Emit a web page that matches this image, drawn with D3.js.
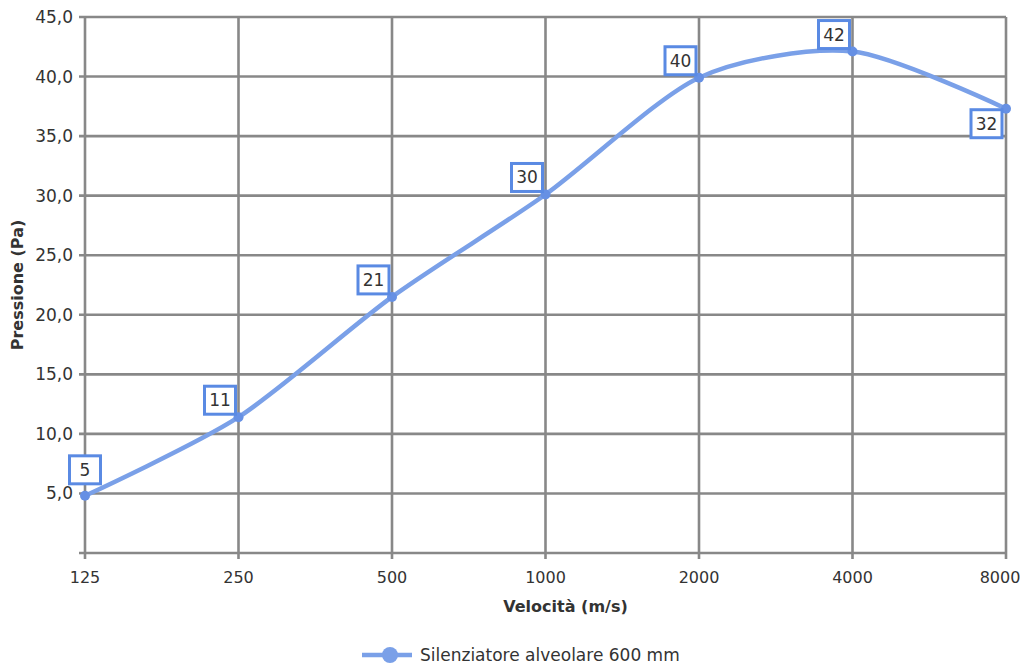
<!DOCTYPE html>
<html>
<head>
<meta charset="utf-8">
<script src="https://cdn.jsdelivr.net/npm/d3@7"></script>
<style>
  body { margin: 0; background: #fff; }
  svg text { font-family: "DejaVu Sans", sans-serif; fill: #333; }
</style>
</head>
<body>
<div id="chart"></div>
<script>
// categories on the x axis
const speeds = ["125", "250", "500", "1000", "2000", "4000", "8000"];
// measured pressure (Pa)
const pressure = [4.8, 11.4, 21.5, 30.1, 39.9, 42.1, 37.3];
// numbers printed in the label boxes
const labels = ["5", "11", "21", "30", "40", "42", "32"];
const yTicks = [5, 10, 15, 20, 25, 30, 35, 40, 45];
const seriesName = "Silenziatore alveolare 600 mm";

const W = 1025, H = 666;
const mLeft = 85, mRight = 1006, mTop = 17, mBottom = 553;
const blue = "#7aa0e8", dot = "#6690e4", grid = "#888";

const svg = d3.select("#chart").append("svg").attr("width", W).attr("height", H);

const x = d3.scalePoint().domain(speeds).range([mLeft, mRight]);
const y = d3.scaleLinear().domain([0, 45]).range([mBottom, mTop]);

//horizontal grid lines
svg.selectAll(".hgrid").data(yTicks).enter().append("line")
    .attr("x1", mLeft - 6).attr("x2", mRight)
    .attr("y1", d => y(d)).attr("y2", d => y(d))
    .attr("stroke", grid).attr("stroke-width", 2.6);

//vertical grid lines
svg.selectAll(".vgrid").data(speeds).enter().append("line")
    .attr("x1", d => x(d)).attr("x2", d => x(d))
    .attr("y1", mTop).attr("y2", mBottom + 6)
    .attr("stroke", grid).attr("stroke-width", 2.6);

//bottom axis line
svg.append("line")
    .attr("x1", mLeft - 6).attr("x2", mRight)
    .attr("y1", mBottom).attr("y2", mBottom)
    .attr("stroke", grid).attr("stroke-width", 2.6);

//y tick labels
svg.selectAll(".ylab").data(yTicks).enter().append("text")
    .attr("x", mLeft - 12).attr("y", d => y(d) + 6)
    .attr("text-anchor", "end")
    .style("font-size", "17px")
    .text(d => d.toFixed(1).replace(".", ","));

//x tick labels (last one kept inside the page)
svg.selectAll(".xlab").data(speeds).enter().append("text")
    .attr("x", d => Math.min(x(d), W - 25)).attr("y", mBottom + 30)
    .attr("text-anchor", "middle")
    .style("font-size", "16px")
    .text(d => d);

//axis titles
svg.append("text")
    .attr("x", (mLeft + mRight) / 2 + 20).attr("y", 612)
    .attr("text-anchor", "middle")
    .style("font-size", "16px").style("font-weight", "bold")
    .text("Velocità (m/s)");

svg.append("text")
    .attr("transform", `translate(23,${(mTop + mBottom) / 2}) rotate(-90)`)
    .attr("text-anchor", "middle")
    .style("font-size", "16px").style("font-weight", "bold")
    .text("Pressione (Pa)");

//the curve
const pts = speeds.map((s, i) => ({ s: s, v: pressure[i], l: labels[i] }));
const line = d3.line().x(d => x(d.s)).y(d => y(d.v)).curve(d3.curveCardinal.tension(0.2));

svg.append("path")
    .attr("d", line(pts))
    .attr("fill", "none")
    .attr("stroke", blue)
    .attr("stroke-width", 4.5);

svg.selectAll(".pt").data(pts).enter().append("circle")
    .attr("cx", d => x(d.s)).attr("cy", d => y(d.v))
    .attr("r", 5).attr("fill", dot);

//label boxes, left-above the point, first one centered, last one below
const bw = 31, bh = 28;
const lab = svg.selectAll(".lbl").data(pts).enter().append("g")
    .attr("transform", (d, i) => {
        let bx = x(d.s) - bw - 3, by = y(d.v) - bh - 3;
        if (i === 0) { bx = x(d.s) - bw / 2; by = y(d.v) - bh - 12; }
        if (i === pts.length - 1) { bx = x(d.s) - bw - 4; by = y(d.v) + 1; }
        return `translate(${bx},${by})`;
    });

lab.append("rect")
    .attr("width", bw).attr("height", bh)
    .attr("fill", "#fff")
    .attr("stroke", "#5a8ae3").attr("stroke-width", 3);

lab.append("text")
    .attr("x", bw / 2).attr("y", bh / 2 + 6)
    .attr("text-anchor", "middle")
    .style("font-size", "17px")
    .text(d => d.l);

//legend
const lg = svg.append("g").attr("transform", "translate(362,655)");
lg.append("line").attr("x1", 0).attr("x2", 50).attr("stroke", blue).attr("stroke-width", 4.5);
lg.append("circle").attr("cx", 28).attr("r", 8).attr("fill", blue);
lg.append("text").attr("x", 58).attr("y", 6).style("font-size", "17px").text(seriesName);
</script>
</body>
</html>
